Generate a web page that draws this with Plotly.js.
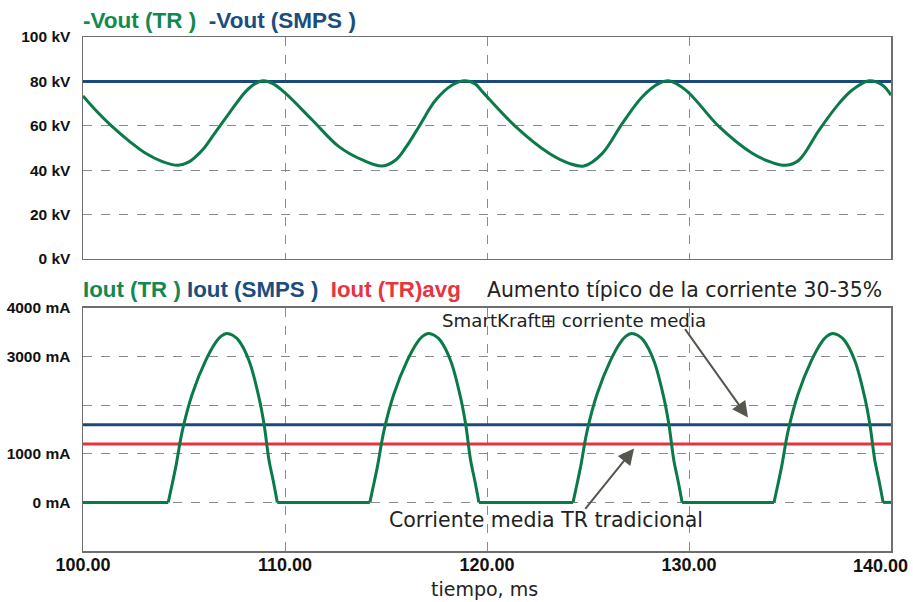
<!DOCTYPE html>
<html>
<head>
<meta charset="utf-8">
<script src="https://cdn.plot.ly/plotly-3.0.1.min.js"></script>
<style>html,body{margin:0;padding:0;background:#fff;}#chart{width:913px;height:602px;}</style>
</head>
<body>
<div id="chart"></div>
<script>
// ---- Data ----
// Top panel: -Vout (TR), kV vs time (ms)
var voutTrT = [100, 100.7, 101.45, 102.3, 103.1, 103.9, 104.7, 105.2, 105.58, 106.0, 106.4, 107.23, 108.05, 108.5, 108.93, 109.4, 110.03, 111.35, 112.67, 113.83, 114.82, 115.48, 116.0, 116.63, 117.46, 118.28, 118.91, 119.4, 119.77, 121.42, 123.07, 124.06, 124.8, 125.71, 126.7, 127.69, 128.51, 128.97, 129.84, 131.49, 133.13, 134.1, 134.79, 135.45, 136.44, 137.43, 138.08, 138.91, 139.57, 140];
var voutTrV = [73.4, 66.3, 59.6, 53.0, 47.6, 44.0, 42.2, 43.5, 46.1, 50.0, 55.1, 65.6, 75.4, 78.9, 80.3, 79.0, 74.6, 62.6, 50.6, 44.6, 41.9, 44.6, 50.5, 59.6, 71.6, 78.4, 80.3, 79.0, 75.4, 59.6, 47.6, 43.1, 41.9, 47.6, 61.1, 73.1, 79.1, 80.3, 76.1, 59.6, 47.6, 43.5, 42.2, 44.6, 58.1, 70.1, 76.1, 80.3, 78.4, 73.8];
// -Vout (SMPS), kV
var voutSmpsT = [100, 140];
var voutSmpsV = [80, 80];

// Bottom panel: Iout (TR), mA vs time (ms); null separates flat parts from pulses
var ioutTrT = [100, 104.22, null,
  104.22, 104.37, 104.59, 104.92, 105.41, 106.07, 106.57, 106.84, 107.11, 107.41, 107.72, 108.22, 108.71, 108.96, 109.21, 109.42, 109.62, null,
  109.62, 114.20, null,
  114.20, 114.35, 114.57, 114.90, 115.39, 116.05, 116.55, 116.82, 117.09, 117.39, 117.70, 118.20, 118.69, 118.94, 119.19, 119.40, 119.60, null,
  119.60, 124.26, null,
  124.26, 124.41, 124.63, 124.96, 125.45, 126.11, 126.61, 126.88, 127.15, 127.45, 127.76, 128.26, 128.75, 129.00, 129.25, 129.46, 129.66, null,
  129.66, 134.21, null,
  134.21, 134.36, 134.58, 134.91, 135.40, 136.06, 136.56, 136.83, 137.10, 137.40, 137.71, 138.21, 138.70, 138.95, 139.20, 139.41, 139.61, null,
  139.61, 140];
var ioutTrV = [0, 0, null,
  0, 290, 725, 1478, 2232, 2916, 3292, 3420, 3476, 3440, 3326, 2916, 2162, 1616, 862, 440, 0, null,
  0, 0, null,
  0, 290, 725, 1478, 2232, 2916, 3292, 3420, 3476, 3440, 3326, 2916, 2162, 1616, 862, 440, 0, null,
  0, 0, null,
  0, 290, 725, 1478, 2232, 2916, 3292, 3420, 3476, 3440, 3326, 2916, 2162, 1616, 862, 440, 0, null,
  0, 0, null,
  0, 290, 725, 1478, 2232, 2916, 3292, 3420, 3476, 3440, 3326, 2916, 2162, 1616, 862, 440, 0, null,
  0, 0];
// Iout (SMPS) and Iout (TR) average, mA
var ioutSmpsT = [100, 140];
var ioutSmpsV = [1600, 1600];
var ioutAvgT = [100, 140];
var ioutAvgV = [1200, 1200];

// Tick labels
var voltTicks = [0, 20, 40, 60, 80, 100];
var voltTickText = ['0 kV', '20 kV', '40 kV', '60 kV', '80 kV', '100 kV'];
var currTicks = [-1000, 0, 1000, 2000, 3000, 4000];
var currTickText = ['', '0 mA', '1000 mA', '', '3000 mA', '4000 mA'];
var timeTicks = [100, 110, 120, 130, 140];
var timeTickText = ['100.00', '110.00', '120.00', '130.00', '140.00'];

// ---- Styling ----
var GREEN = '#0a7a49', BLUE = '#1a4a7c', RED = '#e8323f';
var GREEN_T = '#13884f', BLUE_T = '#1b4d7e', RED_T = '#e8343f';
var BORDER = '#6e6e6e', GRID = '#8a8a8a';
var BOLD = 'Liberation Sans, Arial, sans-serif';
var LIGHT = 'DejaVu Sans, Noto Sans, sans-serif';

var traces = [
  {x: voutSmpsT, y: voutSmpsV, xaxis: 'x', yaxis: 'y', mode: 'lines', line: {color: BLUE, width: 3}, hoverinfo: 'skip'},
  {x: voutTrT, y: voutTrV, xaxis: 'x', yaxis: 'y', mode: 'lines', line: {color: GREEN, width: 3, shape: 'spline', smoothing: 1}, hoverinfo: 'skip'},
  {x: ioutSmpsT, y: ioutSmpsV, xaxis: 'x2', yaxis: 'y2', mode: 'lines', line: {color: BLUE, width: 3}, hoverinfo: 'skip'},
  {x: ioutAvgT, y: ioutAvgV, xaxis: 'x2', yaxis: 'y2', mode: 'lines', line: {color: RED, width: 3}, hoverinfo: 'skip'},
  {x: ioutTrT, y: ioutTrV, xaxis: 'x2', yaxis: 'y2', mode: 'lines', connectgaps: false, line: {color: GREEN, width: 3, shape: 'spline', smoothing: 1}, hoverinfo: 'skip'}
];

function xAxisBase() {
  return {range: [100, 140], showline: true, mirror: true, linecolor: BORDER, linewidth: 1.5,
    showgrid: true, gridcolor: GRID, griddash: 'dash', gridwidth: 1, zeroline: false, ticks: '',
    tickvals: timeTicks.slice(0, 4), ticktext: timeTickText.slice(0, 4), fixedrange: true};
}
function yAxisBase() {
  return {showline: true, mirror: true, linecolor: BORDER, linewidth: 1.5,
    showgrid: true, gridcolor: GRID, griddash: 'dash', gridwidth: 1, zeroline: false, ticks: '',
    ticklabelstandoff: 8, tickfont: {family: BOLD, size: 15.5, color: '#111', weight: 'bold'}, fixedrange: true};
}

var xa1 = xAxisBase(); xa1.anchor = 'y'; xa1.showticklabels = false;
xa1.tickvals = [110, 120, 130];
var xa2 = xAxisBase(); xa2.anchor = 'y2';
xa2.tickfont = {family: BOLD, size: 18, color: '#111', weight: 'bold'};
xa2.ticklabelstandoff = -3;

var ya1 = yAxisBase(); ya1.anchor = 'x'; ya1.domain = [0.5681, 1]; ya1.range = [0, 100];
ya1.tickvals = voltTicks; ya1.ticktext = voltTickText;
var ya2 = yAxisBase(); ya2.anchor = 'x2'; ya2.domain = [0, 0.4728]; ya2.range = [-1000, 4000];
ya2.tickvals = currTicks; ya2.ticktext = currTickText;

function titleSpan(txt, col) {
  return '<span style="color:' + col + '"><b>' + txt + '</b></span>';
}

var layout = {
  width: 913, height: 602,
  margin: {l: 83, r: 22, t: 37, b: 51},
  paper_bgcolor: '#fff', plot_bgcolor: '#fff',
  showlegend: false,
  xaxis: xa1, yaxis: ya1, xaxis2: xa2, yaxis2: ya2,
  annotations: [
    {xref: 'paper', yref: 'paper', x: -0.002, y: 1.033, xanchor: 'left', yanchor: 'middle', showarrow: false,
     font: {family: BOLD, size: 22.5, weight: 'bold'},
     text: titleSpan('-Vout (TR )', GREEN_T) + '&nbsp;&nbsp;' + titleSpan('-Vout (SMPS )', BLUE_T)},
    {xref: 'paper', yref: 'paper', x: -0.002, y: 0.5078, xanchor: 'left', yanchor: 'middle', showarrow: false,
     font: {family: BOLD, size: 22.3, weight: 'bold'},
     text: titleSpan('Iout (TR )', GREEN_T) + ' ' + titleSpan('Iout (SMPS )', BLUE_T) + '&nbsp;&nbsp;' + titleSpan('Iout (TR)avg', RED_T)},
    {xref: 'paper', yref: 'paper', x: 0.991, y: 0.5078, xanchor: 'right', yanchor: 'middle', showarrow: false,
     font: {family: LIGHT, size: 20.4, color: '#222'}, text: 'Aumento típico de la corriente 30-35%'},
    {xref: 'x2', yref: 'y2', x: 124.3, y: 3737, xanchor: 'center', yanchor: 'middle', showarrow: false,
     font: {family: LIGHT, size: 18.2, color: '#222'}, text: 'SmartKraft⊞ corriente media'},
    {xref: 'x2', yref: 'y2', x: 122.92, y: -370, xanchor: 'center', yanchor: 'middle', showarrow: false,
     font: {family: LIGHT, size: 20.5, color: '#222'}, text: 'Corriente media TR tradicional'},
    {xref: 'paper', yref: 'paper', x: 1.0235, y: -0.0292, xanchor: 'right', yanchor: 'middle', showarrow: false,
     font: {family: BOLD, size: 18, color: '#111', weight: 'bold'}, text: timeTickText[4]},
    {xref: 'paper', yref: 'paper', x: 0.4975, y: -0.0739, xanchor: 'center', yanchor: 'middle', showarrow: false,
     font: {family: LIGHT, size: 19, color: '#222'}, text: 'tiempo, ms'},
    {xref: 'x2', yref: 'y2', x: 132.92, y: 1745, ax: -64, ay: -90, text: '', showarrow: true,
     arrowhead: 2, arrowsize: 1.6, arrowwidth: 2, arrowcolor: '#56564f', standoff: 0},
    {xref: 'x2', yref: 'y2', x: 127.28, y: 1109, ax: -50, ay: 62, text: '', showarrow: true,
     arrowhead: 2, arrowsize: 1.6, arrowwidth: 2, arrowcolor: '#56564f', standoff: 0}
  ]
};

Plotly.newPlot('chart', traces, layout, {staticPlot: true, displayModeBar: false});
</script>
</body>
</html>
